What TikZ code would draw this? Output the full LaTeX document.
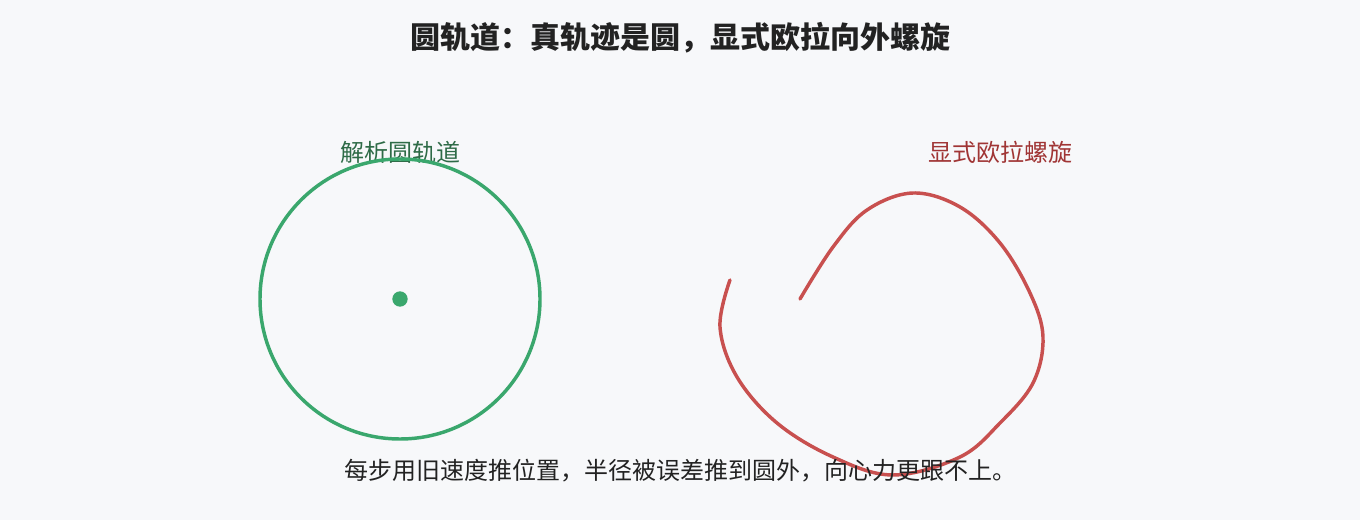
\documentclass[tikz,border=0pt]{standalone}
\usepackage{fontspec}
\setmainfont{Noto Sans CJK SC}
\usetikzlibrary{positioning}
\definecolor{bg_grey}{HTML}{F7F8FA}
\definecolor{title_ink}{HTML}{222222}
\definecolor{orbit_green}{HTML}{3AA76D}
\definecolor{orbit_label}{HTML}{2E6B47}
\definecolor{euler_red}{HTML}{C8504F}
\definecolor{euler_label}{HTML}{A03535}
\tikzstyle{lbl}=[font=\fontsize{18pt}{20pt}\selectfont,inner sep=0pt]
\tikzstyle{path_line}=[line width=2.6pt,line cap=round,line join=round]

\begin{document}
\begin{tikzpicture}[x=0.75pt,y=-0.75pt]
    \fill[bg_grey] (0,0) rectangle (1360,520);
    \useasboundingbox (0,0) rectangle (1360,520);
    \node [lbl,font=\fontsize{22.5pt}{25pt}\selectfont\bfseries,text=title_ink] (title) at (680,38) {圆轨道：真轨迹是圆，显式欧拉向外螺旋};
    \node [lbl,text=orbit_label] (circ_lbl) at (400,152) {解析圆轨道};
    \node [lbl,text=euler_label] (spiral_lbl) at (1000,152) {显式欧拉螺旋};
    \node [circle,fill=orbit_green,inner sep=0pt,minimum size=11.5pt] (centre) at (400,299) {};
    \draw [path_line,orbit_green] (centre) circle [radius=140];
    \coordinate (spiral_start) at (800,299);
    \coordinate (spiral_end) at (730,280);
    \draw [path_line,euler_red] plot [smooth,tension=0.6] coordinates {(800,299) (833,247) (867,210) (913,193) (960,207) (1000,243) (1030,293) (1043,337) (1033,383) (1000,423) (960,457) (893,475) (833,457) (777,423) (737,377) (720,327) (730,280)};
    \node [lbl,text=title_ink] (caption) at (680,471) {每步用旧速度推位置，半径被误差推到圆外，向心力更跟不上。};
  \end{tikzpicture}
\end{document}
